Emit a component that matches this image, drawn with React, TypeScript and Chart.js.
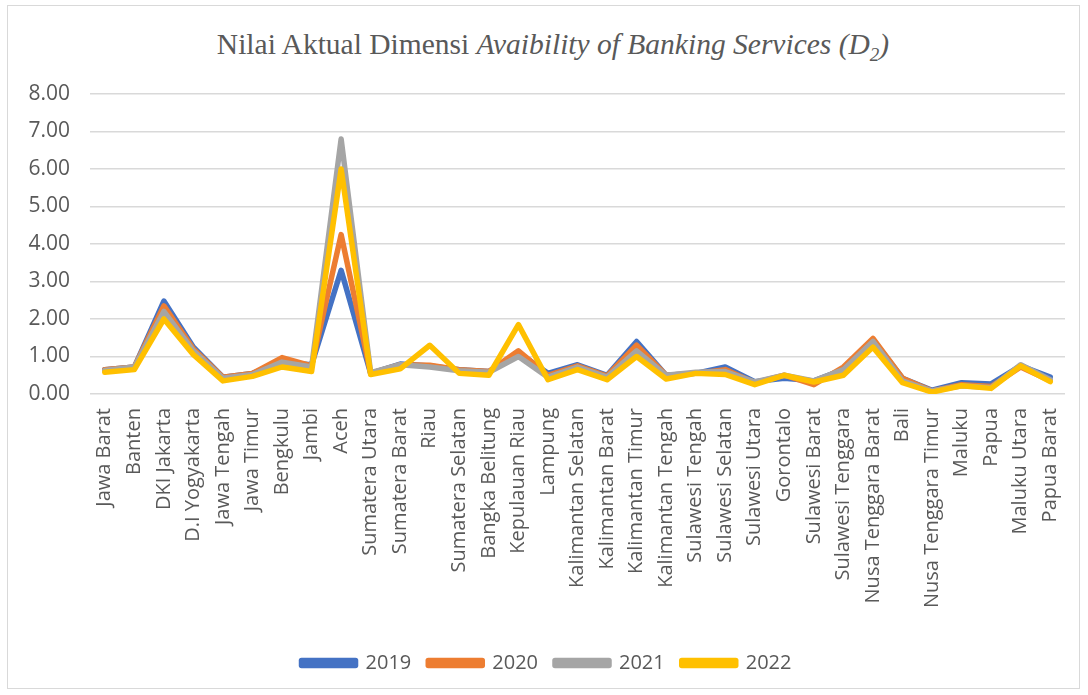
import React, { useEffect, useRef } from "react";
import { Chart, registerables } from "chart.js";

Chart.register(...registerables);

const categories = [
  "Jawa Barat", "Banten", "DKI Jakarta", "D.I Yogyakarta", "Jawa Tengah", "Jawa Timur",
  "Bengkulu", "Jambi", "Aceh", "Sumatera Utara", "Sumatera Barat", "Riau",
  "Sumatera Selatan", "Bangka Belitung", "Kepulauan Riau", "Lampung", "Kalimantan Selatan",
  "Kalimantan Barat", "Kalimantan Timur", "Kalimantan Tengah", "Sulawesi Tengah",
  "Sulawesi Selatan", "Sulawesi Utara", "Gorontalo", "Sulawesi Barat", "Sulawesi Tenggara",
  "Nusa Tenggara Barat", "Bali", "Nusa Tenggara Timur", "Maluku", "Papua", "Maluku Utara",
  "Papua Barat",
];

const values2019 = [0.65, 0.72, 2.48, 1.25, 0.45, 0.55, 0.85, 0.78, 3.3, 0.55, 0.8, 0.75, 0.65, 0.6, 1.1, 0.55, 0.78, 0.5, 1.4, 0.5, 0.55, 0.72, 0.33, 0.42, 0.35, 0.65, 1.45, 0.42, 0.1, 0.3, 0.27, 0.75, 0.45];
const values2020 = [0.65, 0.72, 2.35, 1.2, 0.45, 0.55, 0.97, 0.75, 4.25, 0.55, 0.78, 0.77, 0.65, 0.6, 1.15, 0.5, 0.75, 0.48, 1.3, 0.5, 0.55, 0.65, 0.3, 0.5, 0.25, 0.72, 1.48, 0.42, 0.08, 0.25, 0.2, 0.72, 0.35];
const values2021 = [0.63, 0.72, 2.2, 1.15, 0.42, 0.52, 0.85, 0.72, 6.8, 0.57, 0.78, 0.72, 0.62, 0.58, 1.0, 0.45, 0.72, 0.45, 1.15, 0.5, 0.58, 0.6, 0.32, 0.5, 0.35, 0.65, 1.4, 0.35, 0.08, 0.22, 0.17, 0.78, 0.38];
const values2022 = [0.58, 0.65, 2.0, 1.05, 0.35, 0.47, 0.72, 0.6, 6.0, 0.52, 0.67, 1.3, 0.55, 0.5, 1.85, 0.38, 0.65, 0.38, 1.0, 0.4, 0.55, 0.52, 0.25, 0.5, 0.32, 0.5, 1.25, 0.3, 0.05, 0.22, 0.15, 0.75, 0.33];

const seriesNames = ["2019", "2020", "2021", "2022"];
const seriesColors = ["#4472C4", "#ED7D31", "#A5A5A5", "#FFC000"];
const seriesValues = [values2019, values2020, values2021, values2022];

export default function App() {
  const canvasRef = useRef<HTMLCanvasElement | null>(null);

  useEffect(() => {
    if (!canvasRef.current) return;
    const chart = new Chart(canvasRef.current, {
      type: "line",
      data: {
        labels: categories,
        datasets: seriesValues.map((vals, i) => ({
          label: seriesNames[i],
          data: vals,
          borderColor: seriesColors[i],
          backgroundColor: seriesColors[i],
          borderWidth: 5.5,
          pointRadius: 0,
          tension: 0,
          borderJoinStyle: "round" as const,
          borderCapStyle: "round" as const,
          order: 4 - i,
        })),
      },
      options: {
        animation: false,
        responsive: false,
        maintainAspectRatio: false,
        layout: { padding: { top: 94, left: 28, right: 23, bottom: 12 } },
        plugins: {
          title: { display: false },
          tooltip: { enabled: false },
          legend: {
            position: "bottom",
            labels: {
              boxWidth: 54,
              boxHeight: 5,
              padding: 17,
              color: "#595959",
              font: { family: "'Open Sans'", size: 20 },
              sort: (a: any, b: any) => a.datasetIndex - b.datasetIndex,
            },
          },
        },
        scales: {
          x: {
            offset: true,
            grid: { display: false, offset: true },
            border: { display: false },
            afterFit: (scale: any) => {
              scale.height = 242;
            },
            ticks: {
              minRotation: 90,
              maxRotation: 90,
              autoSkip: false,
              color: "#595959",
              padding: 6,
              font: { family: "'Open Sans'", size: 20 },
            },
          },
          y: {
            min: 0,
            max: 8,
            border: { display: false },
            grid: { color: "#D9D9D9", lineWidth: 1.5, drawTicks: false },
            afterFit: (scale: any) => {
              scale.width = 62;
            },
            ticks: {
              stepSize: 1,
              padding: 20,
              color: "#595959",
              font: { family: "'Open Sans'", size: 21 },
              callback: (v: any) => Number(v).toFixed(2),
            },
          },
        },
      },
    });
    return () => chart.destroy();
  }, []);

  return (
    <div style={{ position: "fixed", left: 0, top: 0, width: 1088, height: 695, background: "#fff" }}>
      <div
        style={{
          position: "absolute",
          left: 7,
          top: 5,
          width: 1073,
          height: 684,
          border: "1px solid #D9D9D9",
          boxSizing: "border-box",
        }}
      />
      <div
        style={{
          position: "absolute",
          left: 0,
          top: 27,
          width: 1106,
          textAlign: "center",
          fontFamily: "'Liberation Serif', 'Times New Roman', serif",
          fontSize: 29.5,
          lineHeight: "34px",
          color: "#595959",
          whiteSpace: "nowrap",
        }}
      >
        Nilai Aktual Dimensi{" "}
        <i>
          Avaibility of Banking Services (D
          <sub style={{ fontSize: 19, lineHeight: 0 }}>2</sub>)
        </i>
      </div>
      <canvas
        ref={canvasRef}
        width={1088}
        height={695}
        style={{ position: "absolute", left: 0, top: 0, width: 1088, height: 695 }}
      />
    </div>
  );
}
